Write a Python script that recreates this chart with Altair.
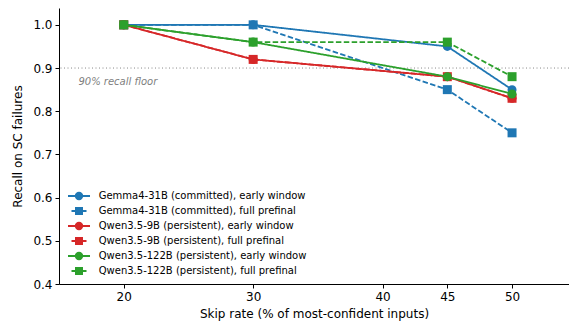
import altair as alt
import pandas as pd

skip_rates = [20, 30, 45, 50]
series_names = [
    "Gemma4-31B (committed), early window",
    "Gemma4-31B (committed), full prefinal",
    "Qwen3.5-9B (persistent), early window",
    "Qwen3.5-9B (persistent), full prefinal",
    "Qwen3.5-122B (persistent), early window",
    "Qwen3.5-122B (persistent), full prefinal",
]
gemma_early = [1.0, 1.0, 0.95, 0.85]
gemma_full = [1.0, 1.0, 0.85, 0.75]
qwen9_early = [1.0, 0.92, 0.88, 0.83]
qwen9_full = [1.0, 0.92, 0.88, 0.83]
qwen122_early = [1.0, 0.96, 0.88, 0.84]
qwen122_full = [1.0, 0.96, 0.96, 0.88]
series_values = [gemma_early, gemma_full, qwen9_early, qwen9_full, qwen122_early, qwen122_full]

series_colors = ["#1f77b4", "#1f77b4", "#d62728", "#d62728", "#2ca02c", "#2ca02c"]
series_shapes = ["circle", "square", "circle", "square", "circle", "square"]
series_dashes = [[1, 0], [5.5, 2.4], [1, 0], [5.5, 2.4], [1, 0], [5.5, 2.4]]

x_ticks = [20, 30, 40, 45, 50]
y_ticks = [0.4, 0.5, 0.6, 0.7, 0.8, 0.9, 1.0]
floor_value = [0.9]
floor_label = ["90% recall floor"]
floor_label_pos = [16.5, 0.868]

# legend symbols: a short line with the marker on it (unit = 4px at symbolSize 64)
circle_path = "M-2.75,0H2.75M0.825,0A0.825,0.825,0,1,1,-0.825,0A0.825,0.825,0,1,1,0.825,0Z"
square_path = "M-1.875,0H1.875M-0.775,-0.775H0.775V0.775H-0.775Z"
legend_paths = [circle_path if s == "circle" else square_path for s in series_shapes]

rows = []
for name, vals in zip(series_names, series_values):
    for xv, yv in zip(skip_rates, vals):
        rows.append({"series": name, "skip": xv, "recall": yv})
df = pd.DataFrame(rows)

FONT = "DejaVu Sans"

x_enc = alt.X(
    "skip:Q",
    scale=alt.Scale(domain=[15, 54.4], nice=False, zero=False),
    axis=alt.Axis(values=x_ticks, title="Skip rate (% of most-confident inputs)", grid=False,
                  labelPadding=3, titlePadding=6),
)
y_enc = alt.Y(
    "recall:Q",
    scale=alt.Scale(domain=[0.4, 1.039], nice=False, zero=False),
    axis=alt.Axis(values=y_ticks, format=".1f", title="Recall on SC failures", grid=False,
                  labelPadding=3, titlePadding=8),
)

floor_df = pd.DataFrame({"recall": floor_value})
rule = alt.Chart(floor_df).mark_rule(color="#888888", strokeWidth=1, strokeDash=[1, 2.5]).encode(y=y_enc)

label_df = pd.DataFrame({"skip": [floor_label_pos[0]], "recall": [floor_label_pos[1]], "text": floor_label})
label = alt.Chart(label_df).mark_text(
    align="left", baseline="middle", fontStyle="italic", font=FONT, fontSize=10, color="#808080"
).encode(x=x_enc, y=y_enc, text="text:N")

layers = [rule, label]
for name, color, shape, dash in zip(series_names, series_colors, series_shapes, series_dashes):
    base = alt.Chart(df).transform_filter(alt.datum.series == name)
    line = base.mark_line(color=color, strokeWidth=1.8, strokeDash=dash).encode(x=x_enc, y=y_enc)
    pts = base.mark_point(filled=True, color=color, shape=shape, size=81, opacity=1).encode(x=x_enc, y=y_enc)
    layers += [line, pts]

leg = alt.Legend(
    title=None, orient="none", legendX=15, legendY=183, symbolSize=64, symbolStrokeWidth=1.8,
    symbolOpacity=1, labelFontSize=10, labelFont=FONT, labelOffset=14.7, rowPadding=1,
    labelColor="black", labelLimit=400,
)
legend_layer = alt.Chart(df).mark_point(filled=True).encode(
    x=x_enc,
    y=y_enc,
    fill=alt.Fill("series:N", scale=alt.Scale(domain=series_names, range=series_colors), legend=leg),
    stroke=alt.Stroke("series:N", scale=alt.Scale(domain=series_names, range=series_colors), legend=leg),
    shape=alt.Shape("series:N", scale=alt.Scale(domain=series_names, range=legend_paths), legend=leg),
    opacity=alt.value(0),
)
layers.append(legend_layer)

chart = alt.layer(*layers).properties(
    width=510,
    height=276,
    padding={"left": 51, "right": 0, "top": 0, "bottom": 39},
    autosize=alt.AutoSizeParams(type="none"),
).configure_view(stroke=None).configure_axis(
    domainColor="black", domainWidth=1, tickColor="black", tickWidth=1, tickSize=4,
    labelFont=FONT, labelFontSize=12, labelColor="black",
    titleFont=FONT, titleFontSize=12, titleFontWeight="normal", titleColor="black",
)

chart.save("out.html", embed_options={"renderer": "svg", "actions": False})
